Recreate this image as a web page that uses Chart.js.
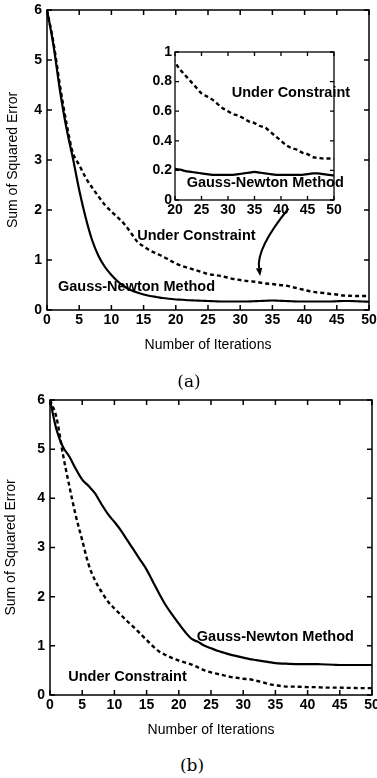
<!DOCTYPE html>
<html><head><meta charset="utf-8">
<script src="https://cdn.jsdelivr.net/npm/chart.js@4.4.1/dist/chart.umd.min.js"></script>
<style>
html,body{margin:0;padding:0;background:#fff;overflow:hidden;width:377px;height:778px;}
canvas{position:absolute;}
.cap{position:absolute;font-family:"DejaVu Serif","Liberation Serif",serif;font-size:17px;color:#000;transform:translate(-50%,-50%);white-space:nowrap;}
</style></head><body>
<canvas id="ca" width="377" height="360" style="left:0;top:0"></canvas>
<canvas id="ci" width="237" height="180" style="left:140px;top:40px"></canvas>
<canvas id="cb" width="377" height="350" style="left:0;top:390px"></canvas>
<div class="cap" style="left:189px;top:381px">(a)</div>
<div class="cap" style="left:192px;top:765px">(b)</div>
<script>
// ---- data ----
const iterations = [0,1,2,3,4,5,6,7,8,9,10,11,12,13,14,15,16,17,18,19,20,21,22,23,24,25,26,27,28,29,30,31,32,33,34,35,36,37,38,39,40,41,42,43,44,45,46,47,48,49,50];
const aGaussNewton = [6.0,5.3,4.4,3.65,3.05,2.4,1.85,1.4,1.08,0.86,0.7,0.57,0.47,0.4,0.35,0.31,0.28,0.26,0.24,0.225,0.21,0.205,0.195,0.19,0.185,0.18,0.175,0.17,0.17,0.17,0.17,0.17,0.175,0.18,0.185,0.19,0.185,0.18,0.175,0.17,0.17,0.17,0.17,0.17,0.17,0.175,0.18,0.18,0.175,0.17,0.165];
const aUnderConstraint = [6.0,5.35,4.5,3.75,3.15,2.9,2.65,2.45,2.27,2.1,1.97,1.85,1.72,1.55,1.37,1.27,1.19,1.13,1.07,1.0,0.93,0.88,0.84,0.8,0.76,0.72,0.7,0.68,0.65,0.62,0.6,0.58,0.57,0.55,0.53,0.52,0.5,0.49,0.46,0.43,0.4,0.37,0.35,0.34,0.32,0.31,0.29,0.285,0.28,0.28,0.28];
const bGaussNewton = [6.0,5.4,5.05,4.85,4.6,4.38,4.25,4.1,3.88,3.68,3.52,3.35,3.15,2.95,2.75,2.55,2.3,2.05,1.82,1.63,1.45,1.28,1.14,1.08,1.0,0.95,0.9,0.86,0.82,0.79,0.76,0.73,0.71,0.69,0.67,0.65,0.64,0.635,0.63,0.63,0.63,0.63,0.625,0.62,0.615,0.61,0.61,0.61,0.61,0.61,0.61];
const bUnderConstraint = [6.0,5.65,4.9,4.25,3.65,3.15,2.65,2.33,2.1,1.9,1.76,1.63,1.5,1.38,1.25,1.12,0.99,0.88,0.81,0.75,0.7,0.66,0.62,0.56,0.5,0.46,0.43,0.4,0.37,0.35,0.33,0.32,0.29,0.26,0.22,0.2,0.18,0.17,0.17,0.165,0.16,0.16,0.155,0.15,0.15,0.15,0.145,0.145,0.14,0.14,0.14];
const mainXTicks = [0,5,10,15,20,25,30,35,40,45,50];
const mainYTicks = [0,1,2,3,4,5,6];
const insetXTicks = [20,25,30,35,40,45,50];
const insetYTicks = [0,0.2,0.4,0.6,0.8,1];
const seriesNames = ['Gauss-Newton Method','Under Constraint'];
const xTitle = 'Number of Iterations';
const yTitle = 'Sum of Squared Error';

// ---- helpers ----
const FONT = '"Liberation Sans", Arial, Helvetica, sans-serif';
const pts = arr => iterations.map((it,i)=>({x:it,y:arr[i]}));
const fixTicks = vals => s => { s.ticks = vals.map(v=>({value:v})); };
const fmt = v => String(+(+v).toFixed(1));

const framePlugin = {
  id:'frame',
  afterDatasetsDraw(chart, args, o){
    const {ctx, chartArea:{left,right,top,bottom}, scales:{x,y}} = chart;
    const L = o.tick || 5;
    ctx.save();
    ctx.strokeStyle = '#000'; ctx.lineWidth = o.lw || 1.5;
    ctx.strokeRect(left, top, right-left, bottom-top);
    ctx.beginPath();
    x.ticks.forEach(t=>{const p=x.getPixelForValue(t.value);ctx.moveTo(p,bottom);ctx.lineTo(p,bottom-L);ctx.moveTo(p,top);ctx.lineTo(p,top+L);});
    y.ticks.forEach(t=>{const p=y.getPixelForValue(t.value);ctx.moveTo(left,p);ctx.lineTo(left+L,p);ctx.moveTo(right,p);ctx.lineTo(right-L,p);});
    ctx.stroke();
    ctx.restore();
  }
};
const bgPlugin = {
  id:'bg',
  beforeDatasetsDraw(chart){
    const {ctx, chartArea:{left,right,top,bottom}} = chart;
    ctx.save(); ctx.fillStyle='#fff'; ctx.fillRect(left,top,right-left,bottom-top); ctx.restore();
  }
};
const notesPlugin = {
  id:'notes',
  afterDraw(chart, args, o){
    if(!o || !o.items) return;
    const {ctx, scales:{x,y}} = chart;
    ctx.save(); ctx.font = o.font; ctx.fillStyle='#000'; ctx.textAlign='left'; ctx.textBaseline='middle';
    o.items.forEach(it=>ctx.fillText(it.text, x.getPixelForValue(it.x), y.getPixelForValue(it.y)));
    ctx.restore();
  }
};
const arrowPlugin = {
  id:'arrow',
  afterDraw(chart, args, o){
    if(!o || !o.from) return;
    const {ctx, scales:{x,y}} = chart;
    const P = p => [x.getPixelForValue(p[0]), y.getPixelForValue(p[1])];
    const a=P(o.from), c=P(o.ctrl), b=P(o.to);
    const dx=b[0]-c[0], dy=b[1]-c[1], d=Math.hypot(dx,dy), ux=dx/d, uy=dy/d;
    const hl=8, hw=3.2;
    const base=[b[0]-ux*hl, b[1]-uy*hl];
    ctx.save(); ctx.strokeStyle='#000'; ctx.fillStyle='#000'; ctx.lineWidth=2;
    ctx.beginPath(); ctx.moveTo(a[0],a[1]); ctx.quadraticCurveTo(c[0],c[1],base[0],base[1]); ctx.stroke();
    ctx.beginPath(); ctx.moveTo(b[0],b[1]); ctx.lineTo(base[0]-uy*hw, base[1]+ux*hw); ctx.lineTo(base[0]+uy*hw, base[1]-ux*hw); ctx.closePath(); ctx.fill();
    ctx.restore();
  }
};

const tickFont = {family:FONT, size:14, weight:'bold'};
const titleFont = {family:FONT, size:14, weight:'normal'};
const noteFont = 'bold 14.5px ' + FONT;

function lineDatasets(solid, dashed){
  return [
    {label:seriesNames[0], data:pts(solid), borderColor:'#000', borderWidth:2.2, pointRadius:0, cubicInterpolationMode:'monotone', fill:false, clip:0},
    {label:seriesNames[1], data:pts(dashed), borderColor:'#000', borderWidth:2.4, borderDash:[4,3], pointRadius:0, cubicInterpolationMode:'monotone', fill:false, clip:0}
  ];
}

function makeChart(id, cfg){
  return new Chart(document.getElementById(id), {
    type:'line',
    data:{datasets:lineDatasets(cfg.solid, cfg.dashed)},
    plugins:[cfg.bg?bgPlugin:{id:'nobg'}, framePlugin, notesPlugin, arrowPlugin],
    options:{
      responsive:false, animation:false, devicePixelRatio:1,
      layout:{padding:cfg.padding, autoPadding:false},
      plugins:{
        legend:{display:false}, tooltip:{enabled:false},
        frame:{tick:cfg.tick, lw:cfg.lw},
        notes:{font:noteFont, items:cfg.notes},
        arrow:cfg.arrow || {}
      },
      scales:{
        x:{type:'linear', min:cfg.xr[0], max:cfg.xr[1], afterBuildTicks:fixTicks(cfg.xt),
           grid:{display:false, drawTicks:false}, border:{display:false},
           ticks:{font:tickFont, color:'#000', padding:cfg.xpad, maxRotation:0, autoSkip:false, callback:fmt},
           title:{display:!!cfg.xTitle, text:cfg.xTitle, font:titleFont, color:'#000', padding:{top:0,bottom:cfg.xtb||0}},
           afterFit:s=>{s.height=cfg.xh; s.paddingLeft=0; s.paddingRight=0; s.paddingTop=0; s.paddingBottom=0;}},
        y:{type:'linear', min:cfg.yr[0], max:cfg.yr[1], afterBuildTicks:fixTicks(cfg.yt),
           grid:{display:false, drawTicks:false}, border:{display:false},
           ticks:{font:tickFont, color:'#000', padding:cfg.ypad, autoSkip:false, callback:fmt},
           title:{display:!!cfg.yTitle, text:cfg.yTitle, font:titleFont, color:'#000', padding:{top:cfg.ytt||0,bottom:0}},
           afterFit:s=>{s.width=cfg.yw; s.paddingLeft=0; s.paddingRight=0; s.paddingTop=0; s.paddingBottom=0;}}
      }
    }
  });
}

// (a) main
makeChart('ca', {
  solid:aGaussNewton, dashed:aUnderConstraint,
  padding:{left:0,right:8,top:10,bottom:0},
  xr:[0,50], yr:[0,6], xt:mainXTicks, yt:mainYTicks,
  xh:50, yw:47, xpad:2, ypad:5, xTitle:xTitle, yTitle:yTitle, xtb:6, ytt:4.6,
  tick:5, lw:1.5,
  notes:[{text:seriesNames[1], x:14.0, y:1.48},{text:seriesNames[0], x:1.7, y:0.47}],
  arrow:{from:[37.5,2.03], ctrl:[32.5,1.24], to:[33.1,0.68]}
});
// (a) inset
makeChart('ci', {
  solid:aGaussNewton, dashed:aUnderConstraint, bg:true,
  padding:{left:0,right:43,top:12,bottom:0},
  xr:[20,50], yr:[0,1], xt:insetXTicks, yt:insetYTicks,
  xh:20, yw:35, xpad:2, ypad:3,
  tick:4, lw:1.3,
  notes:[{text:seriesNames[1], x:30.7, y:0.72},{text:seriesNames[0], x:22.2, y:0.117}]
});
// (b)
makeChart('cb', {
  solid:bGaussNewton, dashed:bUnderConstraint,
  padding:{left:0,right:5,top:10,bottom:0},
  xr:[0,50], yr:[0,6], xt:mainXTicks, yt:mainYTicks,
  xh:45, yw:50, xpad:2, ypad:5, xTitle:xTitle, yTitle:yTitle, xtb:1, ytt:2.6,
  tick:5, lw:1.5,
  notes:[{text:seriesNames[0], x:22.8, y:1.18},{text:seriesNames[1], x:2.84, y:0.36}]
});
</script>
</body></html>
